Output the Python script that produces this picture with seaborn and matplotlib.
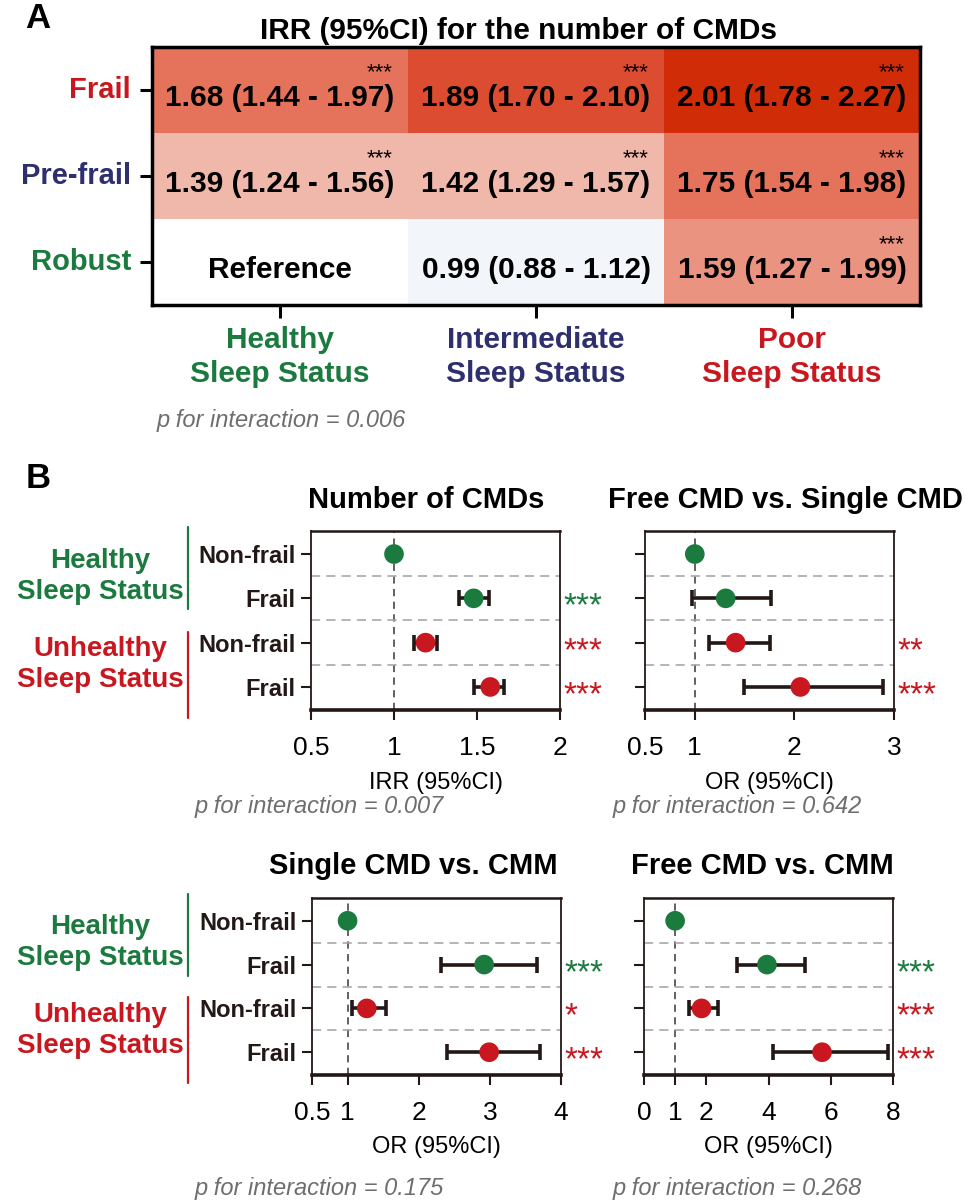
import numpy as np
import pandas as pd
import matplotlib
matplotlib.use("Agg")
import matplotlib.pyplot as plt
import matplotlib.transforms as mtransforms
from matplotlib.colors import ListedColormap, BoundaryNorm
import seaborn as sns

# ---- data ----
# panel A: IRR heatmap
frail_rows = ["Frail", "Pre-frail", "Robust"]
sleep_cols = ["Healthy\nSleep Status", "Intermediate\nSleep Status", "Poor\nSleep Status"]
irr = [[1.68, 1.89, 2.01],
       [1.39, 1.42, 1.75],
       [1.00, 0.99, 1.59]]
irr_lo = [[1.44, 1.70, 1.78],
          [1.24, 1.29, 1.54],
          [np.nan, 0.88, 1.27]]
irr_hi = [[1.97, 2.10, 2.27],
          [1.56, 1.57, 1.98],
          [np.nan, 1.12, 1.99]]
irr_sig = [["***", "***", "***"],
           ["***", "***", "***"],
           ["", "", "***"]]
p_heat = "0.006"

# panel B: forest plots (rows: healthy non-frail, healthy frail, unhealthy non-frail, unhealthy frail)
row_labels = ["Non-frail", "Frail", "Non-frail", "Frail"]
row_sleep = ["Healthy", "Healthy", "Unhealthy", "Unhealthy"]

titles = ["Number of CMDs", "Free CMD vs. Single CMD", "Single CMD vs. CMM", "Free CMD vs. CMM"]
xlabels = ["IRR (95%CI)", "OR (95%CI)", "OR (95%CI)", "OR (95%CI)"]
p_inter = ["0.007", "0.642", "0.175", "0.268"]

cmd_est = [1.00, 1.48, 1.19, 1.58]
cmd_lo = [np.nan, 1.39, 1.12, 1.48]
cmd_hi = [np.nan, 1.57, 1.26, 1.66]
cmd_sig = ["", "***", "***", "***"]

fs_est = [1.00, 1.31, 1.41, 2.06]
fs_lo = [np.nan, 0.97, 1.14, 1.49]
fs_hi = [np.nan, 1.77, 1.75, 2.89]
fs_sig = ["", "", "**", "***"]

sm_est = [1.00, 2.92, 1.27, 2.99]
sm_lo = [np.nan, 2.32, 1.06, 2.40]
sm_hi = [np.nan, 3.66, 1.54, 3.70]
sm_sig = ["", "***", "*", "***"]

fm_est = [1.00, 3.95, 1.85, 5.72]
fm_lo = [np.nan, 2.99, 1.43, 4.16]
fm_hi = [np.nan, 5.16, 2.39, 7.85]
fm_sig = ["", "***", "***", "***"]

xlims = [(0.5, 2), (0.5, 3), (0.5, 4), (0, 8)]
xticks = [[0.5, 1, 1.5, 2], [0.5, 1, 2, 3], [0.5, 1, 2, 3, 4], [0, 1, 2, 4, 6, 8]]
tick_text = [["0.5", "1", "1.5", "2"], ["0.5", "1", "2", "3"],
             ["0.5", "1", "2", "3", "4"], ["0", "1", "2", "4", "6", "8"]]

# ---- style ----
sns.set_style("white")
plt.rcParams["font.family"] = ["Liberation Sans", "DejaVu Sans"]
plt.rcParams["text.color"] = "black"
plt.rcParams["axes.labelcolor"] = "black"
plt.rcParams["xtick.color"] = "black"
plt.rcParams["ytick.color"] = "black"

GREEN = "#1b7a3d"
RED = "#c8171e"
NAVY = "#2e2f6e"
DARK = "#231815"
GREY = "#6e6e6e"
sleep_pal = {"Healthy": GREEN, "Unhealthy": RED}

W, H = 968, 1201
fig = plt.figure(figsize=(W / 100, H / 100), dpi=100)


def rect(l, t, r, b):
    return [l / W, 1 - b / H, (r - l) / W, (b - t) / H]


def fx(x):
    return x / W


def fy(y):
    return 1 - y / H


# ---- Panel A ----
axA = fig.add_axes(rect(152, 47, 920, 305))
heat = pd.DataFrame(irr, index=frail_rows, columns=sleep_cols)
annot = np.empty((3, 3), dtype=object)
for i in range(3):
    for j in range(3):
        if np.isnan(irr_lo[i][j]):
            annot[i, j] = "Reference"
        else:
            annot[i, j] = f"{irr[i][j]:.2f} ({irr_lo[i][j]:.2f} - {irr_hi[i][j]:.2f})"

cell_cols = ["#f2f6fa", "#ffffff", "#f0b8ab", "#eb9381", "#e5735b", "#dc4c30", "#d12c08"]
bounds = [0.9, 0.995, 1.2, 1.5, 1.65, 1.8, 1.95, 2.2]
cmap = ListedColormap(cell_cols)
norm = BoundaryNorm(bounds, cmap.N)

sns.heatmap(heat, ax=axA, cmap=cmap, norm=norm, cbar=False, annot=annot, fmt="",
            annot_kws=dict(size=21.5, weight="bold", color="black"))
# push the cell labels a bit down to leave room for the stars
for t in axA.texts:
    x, y = t.get_position()
    t.set_position((x, y + 0.09))
for i in range(3):
    for j in range(3):
        if irr_sig[i][j]:
            axA.text(j + 0.94, i + 0.36, irr_sig[i][j], ha="right", va="baseline",
                     fontsize=16, color="black")

for sp in axA.spines.values():
    sp.set_visible(True)
    sp.set_linewidth(2.5)
    sp.set_color("black")
axA.tick_params(axis="both", left=True, bottom=True, length=9, width=2.2,
                color="black", pad=6)
axA.set_xlabel("")
axA.set_ylabel("")
row_cols = [RED, NAVY, GREEN]
col_cols = [GREEN, NAVY, RED]
axA.set_yticklabels(frail_rows, rotation=0, fontsize=21, fontweight="bold")
for lab, c in zip(axA.get_yticklabels(), row_cols):
    lab.set_color(c)
axA.set_xticklabels(sleep_cols, rotation=0, fontsize=21.5, fontweight="bold", linespacing=1.3)
for lab, c in zip(axA.get_xticklabels(), col_cols):
    lab.set_color(c)

fig.text(fx(518), fy(31), "IRR (95%CI) for the number of CMDs", ha="center", va="center",
         fontsize=21.5, fontweight="bold")
fig.text(fx(157), fy(420), f"p for interaction = {p_heat}", ha="left", va="center",
         fontsize=17, style="italic", color=GREY)
fig.text(fx(38), fy(18), "A", ha="center", va="center", fontsize=25, fontweight="bold")
fig.text(fx(38), fy(478), "B", ha="center", va="center", fontsize=25, fontweight="bold")

# ---- Panel B ----
est_all = [cmd_est, fs_est, sm_est, fm_est]
lo_all = [cmd_lo, fs_lo, sm_lo, fm_lo]
hi_all = [cmd_hi, fs_hi, sm_hi, fm_hi]
sig_all = [cmd_sig, fs_sig, sm_sig, fm_sig]

boxes = [(311, 531, 560, 710), (645, 531, 894, 710),
         (312, 898, 561, 1075), (644, 898, 893, 1075)]
title_pos = [(426, 500), (785, 500), (413, 866), (762, 866)]
p_pos = [(195, 806), (613, 806), (195, 1188), (613, 1188)]

for k in range(4):
    ax = fig.add_axes(rect(*boxes[k]))
    df = pd.DataFrame({"row": np.arange(4), "est": est_all[k], "lo": lo_all[k],
                       "hi": hi_all[k], "sleep": row_sleep, "sig": sig_all[k]})

    ax.axvline(1, color="#555555", lw=1.3, ls=(0, (4, 3)), zorder=1)
    for yy in [0.5, 1.5, 2.5]:
        ax.axhline(yy, color="#a0a0a0", lw=1.1, ls=(0, (6, 4)), zorder=1)

    ci = df.dropna(subset=["lo"])
    ax.errorbar(ci["est"], ci["row"],
                xerr=[ci["est"] - ci["lo"], ci["hi"] - ci["est"]],
                fmt="none", ecolor=DARK, elinewidth=2.6, capsize=6, capthick=2.6, zorder=2)
    sns.scatterplot(data=df, x="est", y="row", hue="sleep", palette=sleep_pal, s=200,
                    edgecolor="none", legend=False, ax=ax, zorder=3)

    trans = mtransforms.blended_transform_factory(ax.transAxes, ax.transData)
    for _, r in df.iterrows():
        if r["sig"]:
            ax.text(1.015, r["row"] + 0.2, r["sig"], transform=trans, ha="left", va="center",
                    fontsize=24, color=sleep_pal[r["sleep"]])

    ax.set_xlim(*xlims[k])
    ax.set_ylim(3.52, -0.52)
    ax.set_xticks(xticks[k])
    ax.set_xticklabels(tick_text[k], fontsize=19)
    ax.set_yticks(np.arange(4))
    if k % 2 == 0:
        ax.set_yticklabels(row_labels, fontsize=17, fontweight="bold", color=DARK)
    else:
        ax.set_yticklabels([])
    ax.tick_params(axis="both", left=True, bottom=True, length=7, width=1.5,
                   color=DARK, direction="out")
    ax.tick_params(axis="x", pad=12)
    ax.tick_params(axis="y", pad=4)
    ax.set_xlabel(xlabels[k], fontsize=17, labelpad=8)
    ax.set_ylabel("")
    for side, sp in ax.spines.items():
        sp.set_visible(True)
        sp.set_color(DARK)
        sp.set_linewidth(1.3)
    ax.spines["bottom"].set_linewidth(2.6)
    ax.spines["top"].set_linewidth(1.8)

    fig.text(fx(title_pos[k][0]), fy(title_pos[k][1]), titles[k], ha="center", va="center",
             fontsize=21, fontweight="bold")
    fig.text(fx(p_pos[k][0]), fy(p_pos[k][1]), f"p for interaction = {p_inter[k]}",
             ha="left", va="center", fontsize=17, style="italic", color=GREY)

    # sleep status groups on the left of the left column
    if k % 2 == 0:
        gtrans = mtransforms.blended_transform_factory(fig.transFigure, ax.transData)
        for name, r0, r1, y0, y1 in [("Healthy", 0, 1, -0.62, 1.25), ("Unhealthy", 2, 3, 1.75, 3.7)]:
            ax.plot([fx(188), fx(188)], [y0, y1], color=sleep_pal[name], lw=1.6,
                    transform=gtrans, clip_on=False)
            ax.text(fx(100), (r0 + r1) / 2, f"{name}\nSleep Status", transform=gtrans,
                    ha="center", va="center", fontsize=20, fontweight="bold",
                    color=sleep_pal[name], linespacing=1.25)

fig.savefig("out.png", dpi=100)
